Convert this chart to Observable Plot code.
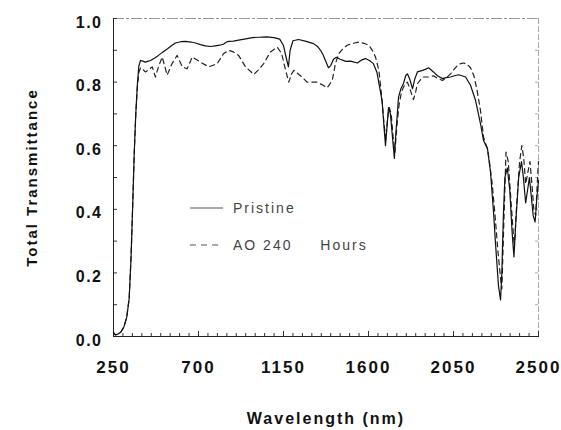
<!DOCTYPE html>
<html><head><meta charset="utf-8">
<script src="https://cdn.jsdelivr.net/npm/d3@7"></script>
<script src="https://cdn.jsdelivr.net/npm/@observablehq/plot@0.6"></script>
<style>
body{margin:0;background:#fff;}
#chart svg{display:block;}
g[aria-label="x-axis tick label"] text{letter-spacing:2px;}
g[aria-label="y-axis tick label"] text{letter-spacing:1.5px;}
.ttl text{letter-spacing:2px;}
</style></head><body><div id="chart"></div>
<script>
// Pristine sample: wavelength (nm) and total transmittance
const pristineNm = [250,260,275,290,305,320,333,343,352,360,368,376,384,393,405,419,435,446,468,488,512,536,558,578,605,631,660,684,710,737,765,790,812,832,848,859,885,912,950,986,1020,1060,1100,1130,1150,1165,1176,1185,1200,1230,1270,1309,1330,1346,1360,1372,1388,1400,1415,1430,1450,1480,1505,1541,1565,1584,1605,1626,1645,1660,1672,1682,1690,1698,1706,1716,1728,1737,1745,1759,1772,1785,1797,1806,1818,1833,1845,1859,1886,1900,1918,1944,1965,1992,2010,2034,2055,2077,2095,2114,2140,2167,2193,2209,2230,2246,2262,2272,2288,2299,2306,2314,2322,2335,2348,2360,2370,2380,2395,2410,2420,2432,2442,2452,2462,2472,2482,2492,2500];
const pristineT = [0.012,0.005,0.008,0.015,0.03,0.06,0.12,0.25,0.42,0.58,0.70,0.79,0.85,0.868,0.866,0.863,0.866,0.868,0.876,0.884,0.895,0.905,0.915,0.923,0.927,0.928,0.926,0.923,0.918,0.914,0.912,0.914,0.916,0.919,0.926,0.928,0.929,0.932,0.936,0.940,0.941,0.942,0.940,0.935,0.915,0.875,0.848,0.90,0.930,0.934,0.928,0.921,0.912,0.90,0.885,0.868,0.845,0.852,0.872,0.878,0.872,0.865,0.866,0.86,0.870,0.874,0.868,0.858,0.83,0.78,0.74,0.66,0.60,0.66,0.72,0.70,0.62,0.56,0.64,0.753,0.78,0.795,0.82,0.826,0.81,0.779,0.81,0.832,0.837,0.84,0.845,0.832,0.82,0.811,0.814,0.816,0.82,0.823,0.82,0.816,0.79,0.742,0.669,0.616,0.59,0.517,0.39,0.296,0.16,0.115,0.2,0.38,0.50,0.53,0.46,0.33,0.25,0.36,0.50,0.55,0.50,0.42,0.46,0.50,0.44,0.38,0.36,0.44,0.49];
// AO 240 hours sample
const aoNm = [250,260,275,290,305,320,333,343,352,360,368,376,384,393,402,419,435,455,472,488,508,534,560,587,614,640,667,710,754,799,832,859,885,912,949,993,1020,1045,1081,1117,1140,1160,1178,1192,1205,1240,1275,1328,1360,1381,1408,1425,1443,1465,1487,1520,1549,1575,1602,1625,1637,1655,1672,1682,1692,1700,1710,1720,1730,1740,1750,1762,1775,1790,1806,1822,1838,1850,1859,1886,1918,1944,1965,1992,2015,2034,2060,2077,2100,2118,2140,2158,2175,2193,2209,2230,2240,2255,2270,2285,2298,2306,2315,2328,2340,2355,2372,2385,2400,2412,2422,2432,2445,2455,2465,2475,2485,2495,2500];
const aoT = [0.012,0.005,0.008,0.015,0.03,0.06,0.12,0.25,0.42,0.58,0.70,0.78,0.83,0.845,0.842,0.832,0.838,0.848,0.816,0.848,0.879,0.822,0.858,0.884,0.848,0.842,0.879,0.863,0.848,0.858,0.889,0.90,0.895,0.884,0.848,0.824,0.84,0.858,0.895,0.91,0.89,0.84,0.80,0.825,0.837,0.82,0.80,0.80,0.79,0.782,0.805,0.858,0.89,0.905,0.916,0.922,0.926,0.922,0.916,0.895,0.879,0.837,0.742,0.67,0.62,0.68,0.72,0.70,0.63,0.58,0.66,0.73,0.77,0.79,0.80,0.774,0.745,0.77,0.795,0.816,0.816,0.82,0.812,0.805,0.815,0.826,0.845,0.856,0.86,0.858,0.845,0.82,0.774,0.71,0.627,0.59,0.55,0.48,0.38,0.27,0.19,0.15,0.33,0.58,0.55,0.42,0.28,0.42,0.55,0.60,0.56,0.48,0.52,0.55,0.48,0.40,0.38,0.50,0.55];

const xTickLabels = [250,700,1150,1600,2050,2500];
const xMinorTicks = d3.range(250, 2501, 50);
const yTickLabels = [0,0.2,0.4,0.6,0.8,1.0];
const yMinorTicks = [0,0.1,0.2,0.3,0.4,0.5,0.6,0.7,0.8,0.9,1.0];
const legendLabels = ["Pristine","AO 240 Hours"];
const xTitle = "Wavelength (nm)";
const yTitle = "Total Transmittance";

const pristine = pristineNm.map((nm,i)=>({nm, t: pristineT[i]}));
const ao = aoNm.map((nm,i)=>({nm, t: aoT[i]}));

const W = 561, H = 430;
const mL = 113, mR = 23, mT = 18, mB = H - 336;
const innerW = W - mL - mR, innerH = H - mT - mB;
const font = "'Liberation Sans', Arial, Helvetica, sans-serif";
const chart = Plot.plot({
  width: W, height: H,
  marginLeft: mL, marginRight: mR, marginTop: mT, marginBottom: mB,
  x: {domain: [250, 2500]},
  y: {domain: [0, 1]},
  style: {fontFamily: font, background: "#fff", color: "#111"},
  marks: [
    Plot.frame({anchor: "top", stroke: "#999", strokeDasharray: "10,3,2,3"}),
    Plot.frame({anchor: "right", stroke: "#aaa", strokeDasharray: "5,3"}),
    // inward minor ticks
    Plot.tickX(xMinorTicks, {x: d => d, insetTop: innerH - 3, stroke: "#333"}),
    Plot.tickX(xTickLabels, {x: d => d, insetTop: innerH - 5, stroke: "#333"}),
    Plot.tickY(yMinorTicks, {y: d => d, insetRight: innerW - 4, stroke: "#333"}),
    Plot.tickY(yMinorTicks, {y: d => d, insetLeft: innerW - 3, stroke: "#aaa"}),
    Plot.axisX({ticks: xTickLabels, tickSize: 0, tickPadding: 24, tickFormat: d => String(d), label: null, fontSize: 17, fontWeight: "bold", fill: "#111"}),
    Plot.axisY({ticks: yTickLabels, tickSize: 0, tickPadding: 11, tickFormat: d3.format(".1f"), label: null, fontSize: 16, fontWeight: "bold", dy: 4, fill: "#111"}),
    Plot.frame({anchor: "left", stroke: "#222"}),
    Plot.frame({anchor: "bottom", stroke: "#222"}),
    Plot.line(ao, {x: "nm", y: "t", stroke: "#222", strokeWidth: 1.2, strokeDasharray: "5,4"}),
    Plot.line(pristine, {x: "nm", y: "t", stroke: "#111", strokeWidth: 1.2}),
    Plot.text([yTitle], {text: d => d, frameAnchor: "left", dx: -81, rotate: -90, textAnchor: "middle", lineAnchor: "middle", fontSize: 15, fontWeight: "bold", className: "ttl"}),
    Plot.text([xTitle], {text: d => d, frameAnchor: "bottom", dy: 82, textAnchor: "middle", lineAnchor: "middle", fontSize: 16, fontWeight: "bold", className: "ttl"})
  ]
});
document.getElementById("chart").appendChild(chart);

// legend
const svg = d3.select(chart);
const lg = svg.append("g").attr("font-family", font).attr("font-size", 14).attr("fill", "#444").attr("text-anchor", "start");
const styles = [null, "6,5"];
legendLabels.forEach((lab, i) => {
  const y = 208 + i * 37;
  lg.append("line").attr("x1", 190).attr("x2", 223).attr("y1", y).attr("y2", y)
    .attr("stroke", "#555").attr("stroke-width", 1).attr("stroke-dasharray", styles[i]);
  const t = lg.append("text").attr("x", 233).attr("y", y).attr("dy", "0.35em").attr("text-anchor", "start").style("letter-spacing", "2px");
  const words = lab.split(" ");
  if (words.length > 2) {
    t.append("tspan").text(words.slice(0, -1).join(" "));
    t.append("tspan").attr("dx", 22).text(" " + words[words.length - 1]);
  } else {
    t.text(lab);
  }
});
</script></body></html>
